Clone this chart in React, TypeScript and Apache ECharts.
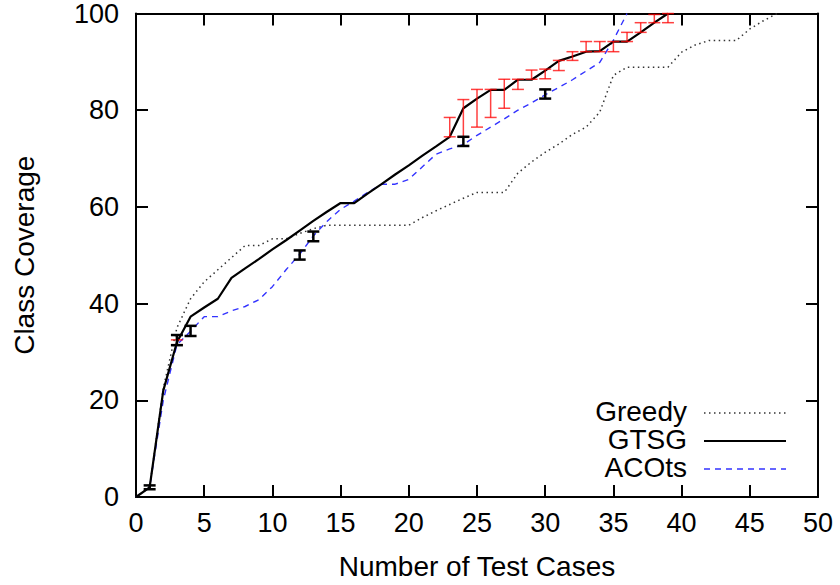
import React, { useEffect, useRef } from "react";
import * as echarts from "echarts";

const FONT = "Liberation Sans, Arial, Helvetica, sans-serif";

const xTicks = [0, 5, 10, 15, 20, 25, 30, 35, 40, 45, 50];
const yTicks = [0, 20, 40, 60, 80, 100];

const greedy = [0, 2, 22.5, 35, 41, 44.5, 47, 49.5, 52, 52, 53.4, 53.4, 54.5, 55.5, 56.2, 56.2, 56.2, 56.2, 56.2, 56.2, 56.2, 57.8, 59.2, 60.5, 61.8, 63, 63, 63, 67, 69.3, 71.3, 73, 75, 76.5, 79.6, 87.2, 88.9, 88.9, 88.9, 88.9, 92, 93.5, 94.4, 94.4, 94.4, 96.8, 98.5, 100];
const gtsg = [0, 2, 22, 32, 37.3, 39.2, 41, 45.3, 47.3, 49.2, 51.2, 53.1, 55.1, 57.1, 59, 60.8, 60.8, 62.8, 64.7, 66.7, 68.6, 70.6, 72.5, 74.5, 80.4, 82.4, 84.2, 84.2, 86.3, 86.3, 88.2, 90.2, 91.1, 92.1, 92.2, 94.2, 94.2, 96.1, 98.1, 100];
const acots = [0, 2, 20, 31.5, 34.3, 37.3, 37.3, 38.5, 39.4, 40.8, 43.5, 47, 50.2, 54, 57, 59.5, 61.2, 63, 64.7, 64.7, 65.7, 68.3, 70.9, 72, 72.9, 74.8, 76.5, 78.2, 80, 81.5, 83.2, 84.7, 86.3, 88.1, 89.9, 94.5, 100];

// [x, low, high]
const gtsgErr = [
  [3, 31.5, 32.5], [23, 74.5, 78.5], [24, 74.5, 82.2], [25, 76.5, 84.3], [26, 78.5, 84.3],
  [27, 80.4, 86.4], [28, 84.3, 86.4], [29, 86.4, 88.3], [30, 86.5, 88.5], [31, 88.2, 90.3],
  [32, 90.3, 92.1], [33, 92.1, 94.2], [34, 92.1, 94.2], [35, 92.1, 94.2], [36, 94.2, 96.1],
  [37, 96.1, 98.1], [38, 98.1, 99.8], [39, 98.1, 100],
];
const acotsErr = [
  [1, 1.6, 2.4], [3, 31.4, 33.5], [4, 33.3, 35.4], [12, 49.1, 51.0], [13, 52.9, 54.9],
  [24, 72.6, 74.5], [30, 82.4, 84.3],
];

const legendNames = ["Greedy", "GTSG", "ACOts"];

function toPairs(arr: number[]) {
  return arr.map((v, i) => [i, v]);
}

function errRender(color: string, width: number) {
  return (params: any, api: any) => {
    const x = api.value(0);
    const lo = api.coord([x, api.value(1)]);
    const hi = api.coord([x, api.value(2)]);
    const hw = 6;
    const style = { stroke: color, lineWidth: width };
    return {
      type: "group",
      children: [
        { type: "line", shape: { x1: lo[0], y1: lo[1], x2: hi[0], y2: hi[1] }, style },
        { type: "line", shape: { x1: lo[0] - hw, y1: lo[1], x2: lo[0] + hw, y2: lo[1] }, style },
        { type: "line", shape: { x1: hi[0] - hw, y1: hi[1], x2: hi[0] + hw, y2: hi[1] }, style },
      ],
    };
  };
}

export default function App() {
  const ref = useRef<HTMLDivElement>(null);
  useEffect(() => {
    if (!ref.current) return;
    const chart = echarts.init(ref.current, null, { renderer: "svg" });
    const axisLine = { show: true, onZero: false, lineStyle: { color: "#000", width: 2 } };
    const axisTick = { show: true, inside: true, length: 12, lineStyle: { color: "#000", width: 2 } };
    const tickLabel = { color: "#000", fontSize: 27, fontFamily: FONT };
    const nameLabel = { color: "#000", fontSize: 28, fontFamily: FONT };
    const legendY = [413, 441, 469];
    const legendStyles = [
      { stroke: "#333", lineWidth: 1.5, lineDash: [1.5, 3.5] },
      { stroke: "#000", lineWidth: 2.2 },
      { stroke: "#3333ff", lineWidth: 1.4, lineDash: [6, 5] },
    ];
    const graphics: any[] = [];
    legendNames.forEach((n, i) => {
      graphics.push({
        type: "text", right: 840 - 687, top: legendY[i] - 16,
        style: { text: n, font: `28px ${FONT}`, fill: "#000", textAlign: "right" },
      });
      graphics.push({
        type: "line", shape: { x1: 704, y1: legendY[i], x2: 786, y2: legendY[i] },
        style: legendStyles[i],
      });
    });
    chart.setOption({
      animation: false,
      grid: { left: 136, right: 22, top: 11, bottom: 88, containLabel: false },
      xAxis: [
        {
          type: "value", min: 0, max: 50, interval: 5, position: "bottom",
          axisLine, axisTick, splitLine: { show: false },
          axisLabel: { ...tickLabel, margin: 12 },
          name: "Number of Test Cases", nameLocation: "middle", nameGap: 55,
          nameTextStyle: { ...nameLabel },
        },
        {
          type: "value", min: 0, max: 50, interval: 5, position: "top",
          axisLine, axisTick, splitLine: { show: false }, axisLabel: { show: false },
        },
      ],
      yAxis: [
        {
          type: "value", min: 0, max: 100, interval: 20, position: "left",
          axisLine, axisTick, splitLine: { show: false },
          axisLabel: { ...tickLabel, margin: 17 },
          name: "Class Coverage", nameLocation: "middle", nameGap: 98,
          nameTextStyle: { ...nameLabel },
        },
        {
          type: "value", min: 0, max: 100, interval: 20, position: "right",
          axisLine, axisTick, splitLine: { show: false }, axisLabel: { show: false },
        },
      ],
      graphic: graphics,
      series: [
        {
          name: "Greedy", type: "line", data: toPairs(greedy), showSymbol: false, symbol: "none",
          lineStyle: { color: "#333", width: 1.5, type: [1.5, 3.5] },
          z: 2,
        },
        {
          name: "ACOts", type: "line", data: toPairs(acots), showSymbol: false, symbol: "none",
          lineStyle: { color: "#3333ff", width: 1.4, type: [6, 5] },
          z: 3,
        },
        {
          name: "GTSG", type: "line", data: toPairs(gtsg), showSymbol: false, symbol: "none",
          lineStyle: { color: "#000", width: 2.2, type: "solid" },
          z: 4,
        },
        {
          name: "GTSG err", type: "custom", data: gtsgErr, encode: { x: 0, y: [1, 2] },
          renderItem: errRender("rgba(255,0,0,0.75)", 1.5), z: 5,
        },
        {
          name: "ACOts err", type: "custom", data: acotsErr, encode: { x: 0, y: [1, 2] },
          renderItem: errRender("#000", 2.5), z: 6,
        },
      ],
    });
    return () => chart.dispose();
  }, []);
  return <div ref={ref} style={{ width: 840, height: 585, position: "absolute", left: 0, top: 0, background: "#fff" }} />;
}
